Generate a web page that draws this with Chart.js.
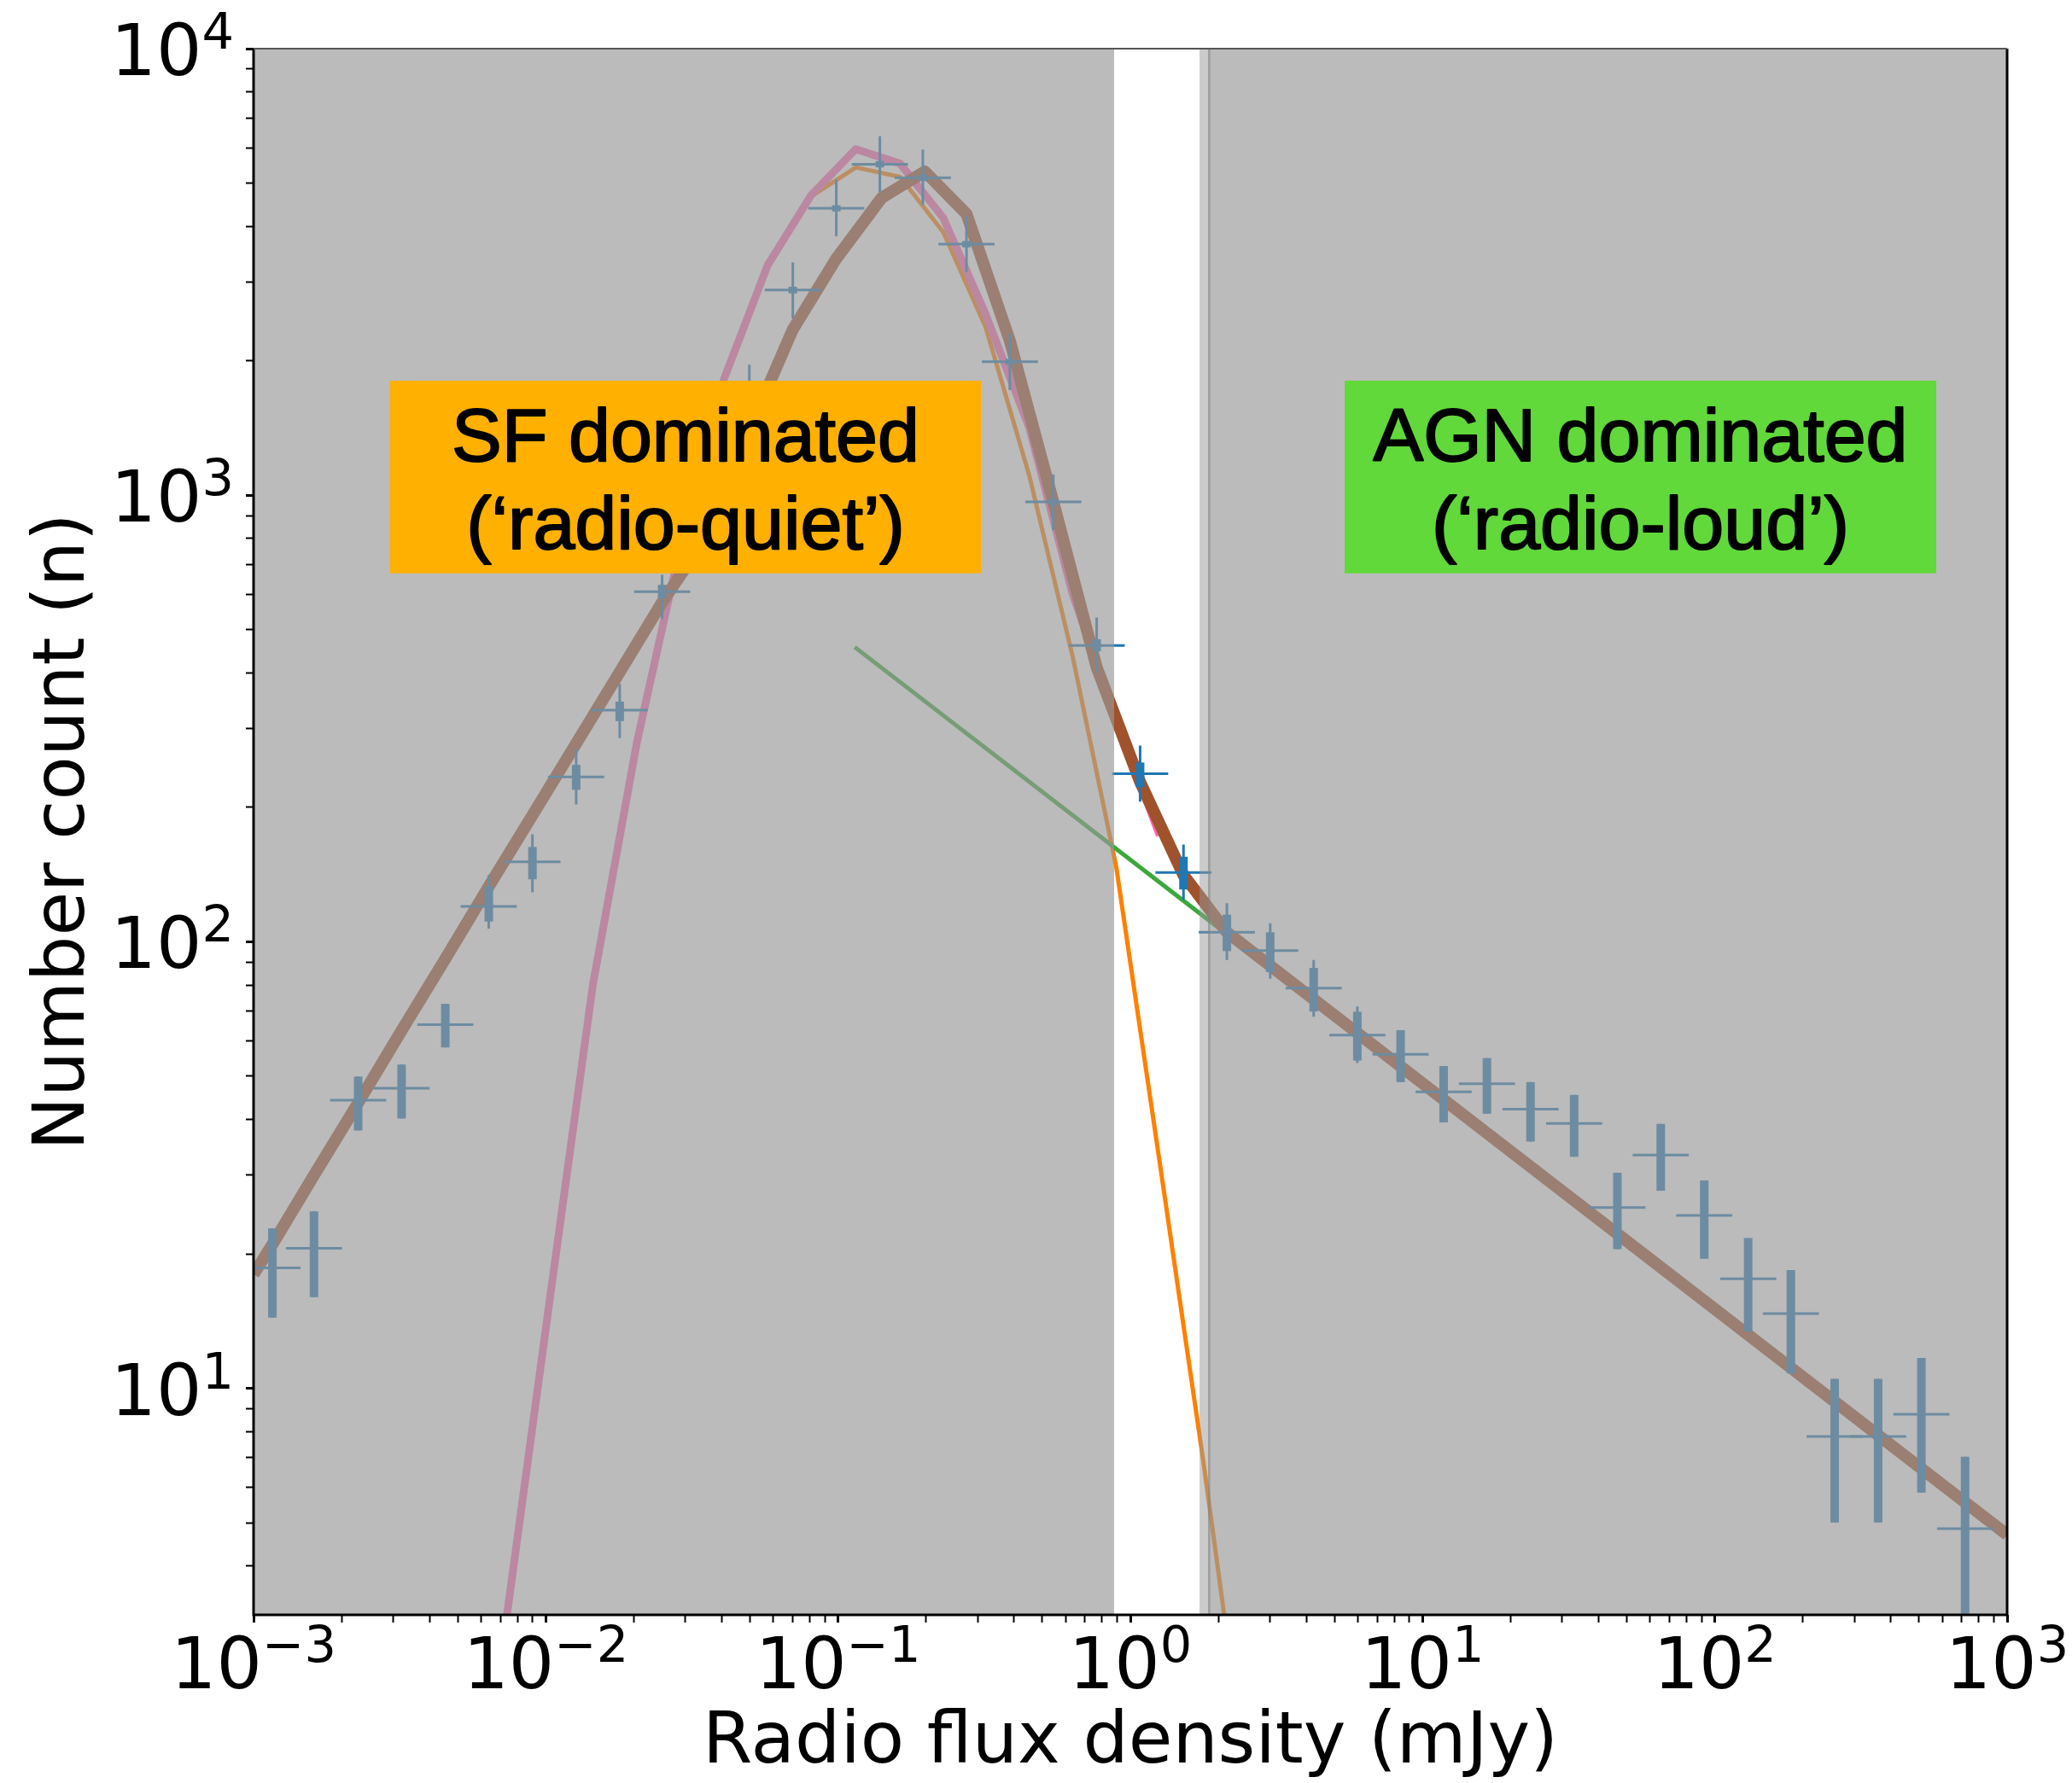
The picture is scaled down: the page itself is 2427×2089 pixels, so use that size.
<!DOCTYPE html>
<html>
<head>
<meta charset="utf-8">
<script src="https://cdn.jsdelivr.net/npm/chart.js@4.4.1/dist/chart.umd.min.js"></script>
<style>
  html, body { margin: 0; padding: 0; background: #fff; }
  #wrap { width: 2427px; height: 2089px; position: relative; }
</style>
</head>
<body>
<div id="wrap"><canvas id="chart-area"></canvas></div>
<script>
// binned counts: bin centre (mJy), number, thin / thick error bar ends
var fluxBins = [0.00116, 0.00161, 0.00228, 0.00321, 0.00453, 0.00638, 0.00900, 0.0127, 0.0179, 0.0250,
    0.0352, 0.0497, 0.0700, 0.0986, 0.139, 0.195, 0.275, 0.387, 0.545, 0.767,
    1.08, 1.52, 2.14, 3.01, 4.24, 5.98, 8.41, 11.8, 16.6, 23.4,
    33.0, 46.4, 65.3, 92.0, 130, 182, 257, 362, 509, 718];
var counts = [18.6, 20.6, 44.2, 47.0, 65.2, 120, 151, 234, 330, 608,
    1030, 1670, 2880, 4390, 5510, 5140, 3650, 1990, 966, 461,
    238, 143, 105, 95.5, 78.7, 61.8, 56.0, 46.1, 48.1, 42.2,
    39.2, 25.4, 33.3, 24.4, 17.6, 14.7, 7.80, 7.80, 8.75, 4.85];
var thinHi = [22.8, 24.9, 49.9, 53.1, 72.6, 141, 174, 270, 378, 663,
    1150, 1960, 3320, 5090, 6370, 5940, 4230, 2300, 1114, 532,
    275, 165, 122, 110, 91.0, 71.6, 63.4, 52.7, 54.9, 48.5,
    45.4, 30.4, 39.1, 29.2, 21.7, 18.4, 10.5, 10.5, 11.7, 7.03];
var thinLo = [14.4, 16.0, 37.8, 40.2, 58.0, 107, 129, 203, 286, 528,
    920, 1410, 2490, 3800, 4770, 4470, 3160, 1720, 837, 399,
    206, 124, 91.0, 82.6, 67.9, 53.5, 48.5, 39.4, 41.2, 35.7,
    33.0, 20.5, 27.7, 19.5, 13.4, 10.8, 5.01, 5.01, 5.84, 2.5];
var thickHi = [22.8, 24.9, 49.9, 53.1, 72.6, 133, 163, 249, 345, 630,
    1050, 1700, 2930, 4460, 5600, 5230, 3710, 2020, 982, 476,
    252, 155, 115, 105, 87.4, 69.7, 63.4, 52.7, 54.9, 48.5,
    45.4, 30.4, 39.1, 29.2, 21.7, 18.4, 10.5, 10.5, 11.7, 7.03];
var thickLo = [14.4, 16.0, 37.8, 40.2, 58.0, 111, 138, 219, 312, 588,
    1010, 1640, 2830, 4320, 5420, 5050, 3590, 1960, 950, 447,
    222, 131, 95.3, 85.5, 69.8, 54.2, 48.5, 39.4, 41.2, 35.7,
    33.0, 20.5, 27.7, 19.5, 13.4, 10.8, 5.01, 5.01, 5.84, 2.5];

// total model (SF + AGN)
var totalFlux = [0.001, 0.00116, 0.00161, 0.00228, 0.00321, 0.00453, 0.00638, 0.00900, 0.0127, 0.0179,
    0.0250, 0.0352, 0.0497, 0.0700, 0.0986, 0.141, 0.198, 0.275, 0.387, 0.545,
    0.767, 1.08, 1.52, 2.14, 1000];
var totalCounts = [18.0, 21.0, 30.0, 43.6, 63.3, 91.6, 133, 192, 278, 402,
    576, 800, 1400, 2350, 3388, 4634, 5309, 4266, 2218, 966,
    412, 228, 141, 105, 4.70];

// second model (pink)
var pinkFlux = [0.00731, 0.0103, 0.0145, 0.0205, 0.0288, 0.0407, 0.0574, 0.0809, 0.115, 0.163,
    0.229, 0.320, 0.451, 0.635, 0.895, 1.26];
var pinkCounts = [3.0, 15.7, 80.4, 280, 762, 1820, 3273, 4698, 5958, 5530,
    4180, 2541, 1416, 600, 314, 173];

// SF component (orange)
var sfFlux = [0.0809, 0.115, 0.163, 0.229, 0.320, 0.451, 0.635, 0.895, 1.26, 1.78, 2.51];
var sfCounts = [4667, 5420, 5163, 3882, 2377, 1107, 435, 147, 32.1, 6.82, 1.30];

// AGN power law (green)
var agnFlux = [0.114, 2.06];
var agnCounts = [457, 106];

// shaded regions: SF side ends, gap, AGN side starts
var bandEdges = [0.88, 1.725, 1.86];

var xTickPowers = [-3, -2, -1, 0, 1, 2, 3];
var yTickPowers = [1, 2, 3, 4];

var blue = '#1f77b4';
var fontFam = '"DejaVu Sans", sans-serif';

function pts(xs, ys) {
    return xs.map(function (v, i) { return {x: v, y: ys[i]}; });
}

function logTicks(lo, hi, powers) {
    var out = [];
    for (var p = powers[0] - 1; p <= powers[powers.length - 1]; p++) {
        for (var m = 1; m < 10; m++) {
            var v = m * Math.pow(10, p);
            if (v >= lo * 0.999 && v <= hi * 1.001) out.push({value: v, major: m === 1});
        }
    }
    return out;
}

function isMajor(c) {
    if (!c.tick) return false;
    var l = Math.log10(c.tick.value);
    return Math.abs(l - Math.round(l)) < 1e-6;
}

function clipArea(ctx, a) {
    ctx.beginPath();
    ctx.rect(a.left, a.top, a.right - a.left, a.bottom - a.top);
    ctx.clip();
}

var errorBars = {
    id: 'errorBars',
    afterDatasetsDraw: function (chart) {
        var ctx = chart.ctx, a = chart.chartArea, x = chart.scales.x, y = chart.scales.y;
        var half = Math.pow(10, 0.096);
        ctx.save();
        clipArea(ctx, a);
        ctx.strokeStyle = blue;
        ctx.lineCap = 'butt';
        fluxBins.forEach(function (f, i) {
            var px = x.getPixelForValue(f), py = y.getPixelForValue(counts[i]);
            ctx.lineWidth = 3;
            ctx.beginPath();
            ctx.moveTo(x.getPixelForValue(f / half), py);
            ctx.lineTo(x.getPixelForValue(f * half), py);
            ctx.moveTo(px, y.getPixelForValue(thinHi[i]));
            ctx.lineTo(px, y.getPixelForValue(thinLo[i]));
            ctx.stroke();
            ctx.lineWidth = 10;
            ctx.beginPath();
            ctx.moveTo(px, y.getPixelForValue(thickHi[i]));
            ctx.lineTo(px, y.getPixelForValue(thickLo[i]));
            ctx.stroke();
        });
        ctx.restore();
    }
};

// grey spans are laid over the curves, as in the original
var spans = {
    id: 'spans',
    afterDatasetsDraw: function (chart) {
        var ctx = chart.ctx, a = chart.chartArea, x = chart.scales.x;
        var e0 = x.getPixelForValue(bandEdges[0]);
        var e1 = x.getPixelForValue(bandEdges[1]);
        var e2 = x.getPixelForValue(bandEdges[2]);
        var h = a.bottom - a.top;
        ctx.save();
        ctx.fillStyle = 'rgba(151,151,151,0.656)';
        ctx.fillRect(a.left, a.top, e0 - a.left, h);
        ctx.fillRect(e2, a.top, a.right - e2, h);
        ctx.fillStyle = 'rgba(151,151,151,0.5)';
        ctx.fillRect(e1, a.top, e2 - e1, h);
        ctx.strokeStyle = 'rgba(130,130,130,0.6)';
        ctx.lineWidth = 2.5;
        ctx.beginPath();
        ctx.moveTo(e2, a.top);
        ctx.lineTo(e2, a.bottom);
        ctx.stroke();
        ctx.restore();
    }
};

var labelBoxes = {
    id: 'labelBoxes',
    afterDatasetsDraw: function (chart) {
        var ctx = chart.ctx, a = chart.chartArea;
        var w = a.right - a.left, h = a.bottom - a.top;
        var boxes = [
            {l: 0.0779, r: 0.4148, color: '#ffb000', lines: ['SF dominated', '(\u2018radio-quiet\u2019)']},
            {l: 0.6222, r: 0.9596, color: '#61d93a', lines: ['AGN dominated', '(\u2018radio-loud\u2019)']}
        ];
        ctx.save();
        boxes.forEach(function (b) {
            var x0 = a.left + b.l * w, x1 = a.left + b.r * w;
            var y0 = a.top + 0.212 * h, y1 = a.top + 0.335 * h;
            var cx = (x0 + x1) / 2;
            ctx.fillStyle = b.color;
            ctx.fillRect(x0, y0, x1 - x0, y1 - y0);
            ctx.fillStyle = '#000';
            ctx.strokeStyle = '#000';
            ctx.lineWidth = 2;
            ctx.lineJoin = 'round';
            ctx.font = '88px "Liberation Sans", Arial, sans-serif';
            ctx.textAlign = 'center';
            ctx.textBaseline = 'alphabetic';
            ctx.fillText(b.lines[0], cx, y0 + 94);
            ctx.strokeText(b.lines[0], cx, y0 + 94);
            ctx.fillText(b.lines[1], cx, y0 + 197);
            ctx.strokeText(b.lines[1], cx, y0 + 197);
        });
        ctx.restore();
    }
};

function powLabel(ctx, p, x, baseY, align) {
    var sup = p < 0 ? '\u2212' + (-p) : String(p);
    ctx.font = '84px ' + fontFam;
    var wb = ctx.measureText('10').width;
    ctx.font = '59px ' + fontFam;
    var ws = ctx.measureText(sup).width;
    var x0 = align === 'center' ? x - (wb + ws) / 2 : x - (wb + ws);
    ctx.textAlign = 'left';
    ctx.textBaseline = 'alphabetic';
    ctx.font = '84px ' + fontFam;
    ctx.fillText('10', x0, baseY);
    ctx.font = '59px ' + fontFam;
    ctx.fillText(sup, x0 + wb, baseY - 31);
}

var axisDecor = {
    id: 'axisDecor',
    afterDraw: function (chart) {
        var ctx = chart.ctx, a = chart.chartArea, x = chart.scales.x, y = chart.scales.y;
        ctx.save();
        ctx.fillStyle = '#000';
        xTickPowers.forEach(function (p) {
            powLabel(ctx, p, x.getPixelForValue(Math.pow(10, p)), a.bottom + 86, 'center');
        });
        yTickPowers.forEach(function (p) {
            powLabel(ctx, p, a.left - 23, y.getPixelForValue(Math.pow(10, p)) + 31, 'right');
        });
        ctx.lineWidth = 3;
        ctx.strokeStyle = '#000';
        ctx.beginPath();
        ctx.moveTo(a.left, a.top);
        ctx.lineTo(a.left, a.bottom);
        ctx.lineTo(a.right, a.bottom);
        ctx.lineTo(a.right, a.top);
        ctx.stroke();
        ctx.lineWidth = 2;
        ctx.strokeStyle = '#555';
        ctx.beginPath();
        ctx.moveTo(a.left, a.top);
        ctx.lineTo(a.right, a.top);
        ctx.stroke();
        ctx.restore();
    }
};

function lineSet(label, xs, ys, color, width) {
    return {
        label: label, data: pts(xs, ys), showLine: true, borderColor: color,
        backgroundColor: color, borderWidth: width, pointRadius: 0, clip: 0
    };
}

var tickGrid = {
    display: true, drawOnChartArea: false, drawTicks: true, tickLength: 9,
    tickColor: '#000',
    tickWidth: function (c) { return isMajor(c) ? 3 : 2; }
};

var ctx = document.getElementById('chart-area').getContext('2d');
var config = {
    type: 'scatter',
    data: {
        datasets: [
            {label: 'data', data: pts(fluxBins, counts), pointStyle: 'rect', pointRadius: 3.5,
                backgroundColor: blue, borderWidth: 0, showLine: false, clip: 0},
            lineSet('total', totalFlux, totalCounts, '#a0522d', 14),
            lineSet('model 2', pinkFlux, pinkCounts, '#ff69b4', 9),
            lineSet('AGN', agnFlux, agnCounts, '#3aa83a', 5),
            lineSet('SF', sfFlux, sfCounts, '#ff8000', 5)
        ]
    },
    options: {
        responsive: true,
        maintainAspectRatio: false,
        animation: false,
        events: [],
        layout: {padding: {left: 0, right: 76, top: 57, bottom: 0}},
        elements: {line: {tension: 0, borderJoinStyle: 'round', borderCapStyle: 'butt'}},
        plugins: {legend: {display: false}, tooltip: {enabled: false}},
        scales: {
            x: {
                type: 'logarithmic', position: 'bottom', min: 1e-3, max: 1e3,
                afterBuildTicks: function (s) { s.ticks = logTicks(1e-3, 1e3, xTickPowers); },
                ticks: {display: false},
                grid: tickGrid,
                border: {display: false},
                title: {display: true, text: 'Radio flux density (mJy)', color: '#000',
                    font: {family: fontFam, size: 84, lineHeight: 1},
                    padding: {top: 100, bottom: 4}}
            },
            y: {
                type: 'logarithmic', position: 'left', min: 3.11, max: 1e4,
                afterBuildTicks: function (s) { s.ticks = logTicks(3.11, 1e4, yTickPowers); },
                ticks: {display: false},
                grid: tickGrid,
                border: {display: false},
                title: {display: true, text: 'Number count (n)', color: '#000',
                    font: {family: fontFam, size: 84, lineHeight: 1},
                    padding: {top: 34, bottom: 170}}
            }
        }
    },
    plugins: [errorBars, spans, labelBoxes, axisDecor]
};
var chart = new Chart(ctx, config);
</script>
</body>
</html>
